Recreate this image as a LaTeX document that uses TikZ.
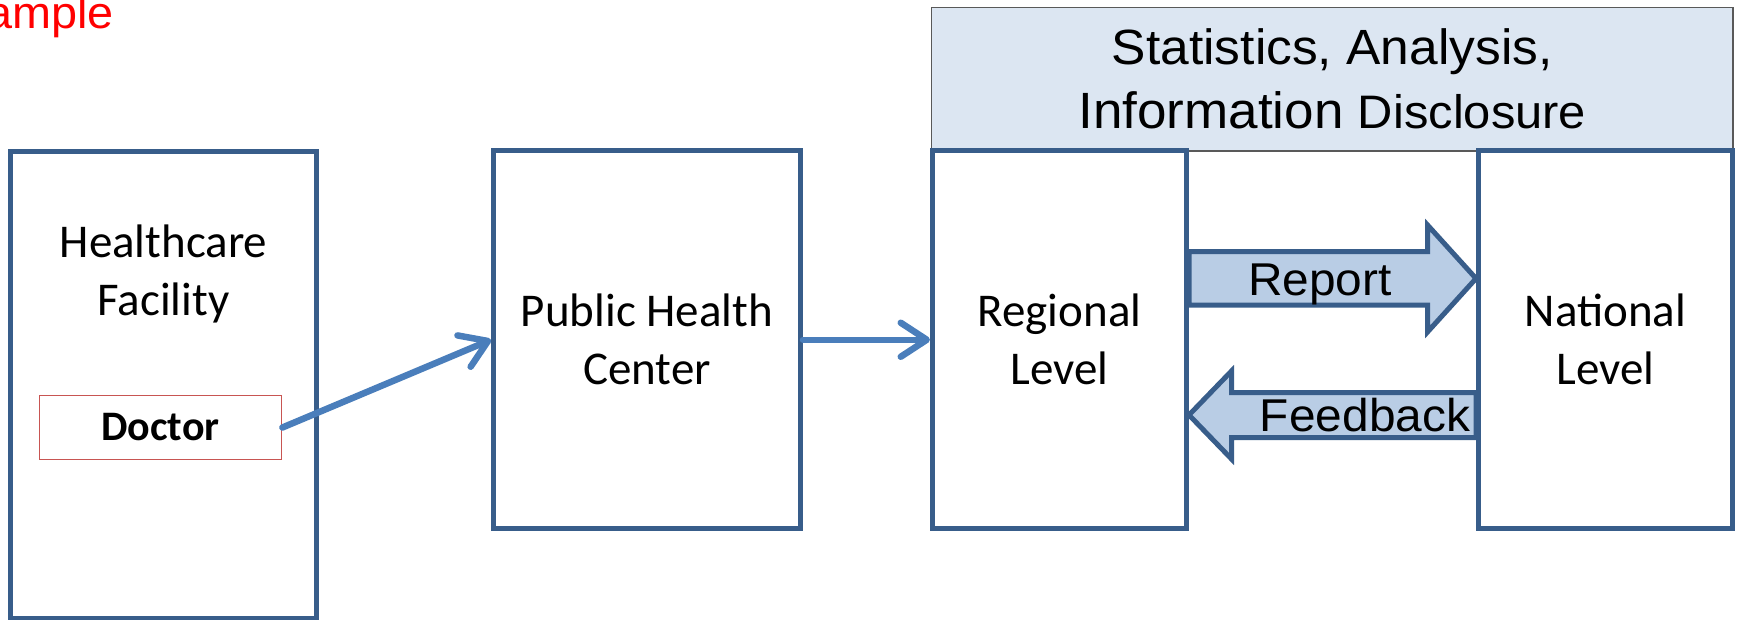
\documentclass[tikz,border=0pt]{standalone}
\usepackage{fontspec}
\usetikzlibrary{arrows.meta}
\newfontfamily\calfont{Carlito}
\newfontfamily\arialfont[FakeStretch=1.04]{Liberation Sans}
\definecolor{boxblue}{RGB}{56,93,138}
\definecolor{lineblue}{RGB}{74,126,187}
\definecolor{fillblue}{RGB}{185,205,229}
\definecolor{paleblue}{RGB}{220,230,242}
\definecolor{docred}{RGB}{200,85,82}
\tikzset{
    office/.style={rectangle,draw=boxblue,line width=2.5pt, inner sep=0, align=center, font=\calfont\fontsize{23.5pt}{29pt}\selectfont},
    person/.style={rectangle,draw=docred,line width=0.75pt, inner sep=0, font=\calfont\bfseries\fontsize{21pt}{25pt}\selectfont},
    banner/.style={rectangle,draw=black!65,fill=paleblue,line width=0.75pt, inner sep=0, align=center, font=\arialfont\fontsize{24.75pt}{32pt}\selectfont},
    flow/.style={draw=lineblue,line width=3.25pt,line cap=round,-{Straight Barb[length=13pt,width=17pt,line cap=round,line join=round]}},
    fat/.style={draw=boxblue,fill=fillblue,line width=2.5pt,line join=miter},
    tag/.style={inner sep=0, font=\arialfont\fontsize{23pt}{27pt}\selectfont}
}
\begin{document}
\begin{tikzpicture}[x=0.5pt,y=-0.5pt]
    \useasboundingbox (0,0) rectangle (1738,620);
    \node[anchor=base east, inner sep=0, text=red, font=\arialfont\fontsize{22.5pt}{26pt}\selectfont] (ex) at (114,28.5) {Example};
    \node[banner, minimum width=400.75pt, minimum height=71.85pt] (stat) at (1332.25,79.15)
        {Statistics, Analysis,\\{\fontsize{25.5pt}{32pt}\selectfont Information} {\fontsize{23.5pt}{32pt}\selectfont Disclosure}};
    \node[office, minimum width=153.25pt, minimum height=233.25pt] (hcf) at (163.25,384.75) {};
    \node[office, draw=none] (hcftxt) at (163.5,274.4) {Healthcare\\Facility};
    \node[person, minimum width=121.2pt, minimum height=31.8pt] (doc) at (160.5,427.5) {Doctor};
    \node[office, minimum width=153.5pt, minimum height=188.75pt] (phc) at (647,339.75) {Public Health\\Center};
    \node[office, minimum width=127pt, minimum height=188.75pt] (reg) at (1059.5,339.75) {Regional\\Level};
    \node[office, minimum width=127pt, minimum height=188.75pt] (nat) at (1605.5,339.75) {National\\Level};

    \draw[flow] (doc.east) -- (phc.west);
    \draw[flow] (phc.east) -- (reg.west);

    % report and feedback
    \draw[fat] (reg.east |- 0,251.5) -- (1427.5,251.5) -- (1427.5,225) -- (nat.west |- 0,278.5)
        -- (1427.5,332) -- (1427.5,305) -- (reg.east |- 0,305) -- cycle;
    \draw[fat] (nat.west |- 0,392.5) -- (1231.5,392.5) -- (1231.5,371) -- (reg.east |- 0,415)
        -- (1231.5,459) -- (1231.5,437.5) -- (nat.west |- 0,437.5) -- cycle;
    \node[tag, anchor=base] (reptxt) at (1320,295) {Report};
    \node[tag, anchor=base] (fbtxt) at (1365,431.7) {Feedback};
\end{tikzpicture}
\end{document}
